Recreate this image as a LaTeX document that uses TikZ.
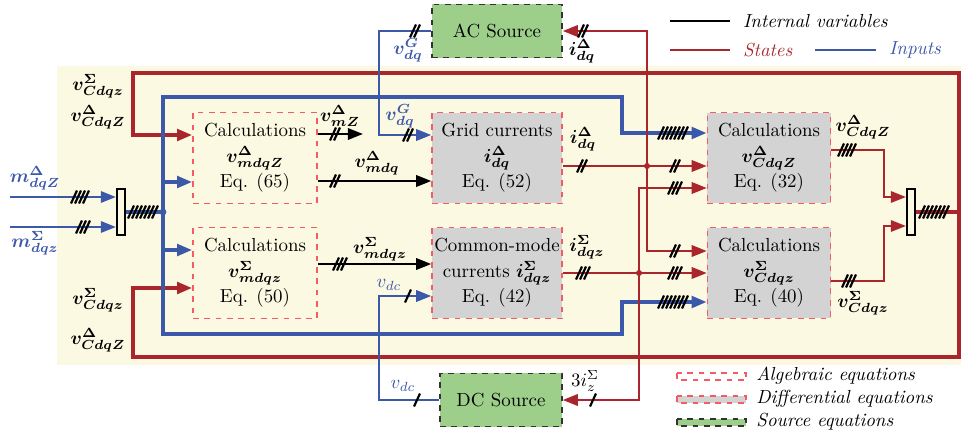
\documentclass[tikz,border=0pt]{standalone}
\usepackage{bm}
\usetikzlibrary{arrows.meta, calc, positioning}
\definecolor{stred}{HTML}{A8262C}
\definecolor{inblue}{HTML}{3C58A8}
\definecolor{bgyel}{HTML}{FCF9E2}
\definecolor{difgray}{HTML}{D3D3D3}
\definecolor{srcgreen}{HTML}{9DCF8A}
\definecolor{algred}{HTML}{F25C64}
\tikzset{arr/.style={-{Triangle[length=8pt,width=6pt]}},
  sthin/.style={stred, line width=1.2pt}, sthick/.style={stred, line width=2pt},
  inthin/.style={inblue, line width=1.2pt}, inthick/.style={inblue, line width=2pt},
  intl/.style={black, line width=1.2pt},
  algbox/.style={draw=algred, dashed, line width=0.7pt},
  eqbox/.style={algbox, align=center, inner sep=0.5pt, minimum width=2.31cm, minimum height=1.69cm},
  difbox/.style={eqbox, fill=difgray},
  srcbox/.style={draw=black!80, dashed, fill=srcgreen, line width=0.7pt, minimum height=0.99cm},
  muxbar/.style={draw, fill=bgyel, line width=1.1pt, inner sep=0pt, minimum width=0.15cm, minimum height=0.87cm},
  lbl/.style={inner sep=1pt}}
\newcommand{\busmark}[3]{\foreach \k in {1,...,#3}
  \draw[line width=1.15pt] ({#1+(\k-(#3+1)/2)*4-3},{#2+6.5}) -- ++(6,-13);}

\begin{document}
\begin{tikzpicture}[x=0.0186cm, y=-0.0186cm]
  \useasboundingbox (0,0) rectangle (961,439);
  \fill[bgyel] (57,66) rectangle (961,365);
  % blocks
  \node[eqbox] (calcD) at (255,158) {Calculations\\[1.5pt] $\bm{v^{\Delta}_{mdqZ}}$\\[1.5pt] Eq. (65)};
  \node[eqbox] (calcS) at (255,273) {Calculations\\[1.5pt] $\bm{v^{\Sigma}_{mdqz}}$\\[1.5pt] Eq. (50)};
  \node[difbox, minimum width=2.42cm] (grid) at (497,158) {Grid currents\\[1.5pt] $\bm{i^{\Delta}_{dq}}$\\[1.5pt] Eq. (52)};
  \node[difbox, minimum width=2.42cm] (cmode) at (497,273) {Common-mode\\[1.5pt] currents~$\bm{i^{\Sigma}_{dqz}}$\\[1.5pt] Eq. (42)};
  \node[difbox, minimum width=2.29cm] (capD) at (769,158) {Calculations\\[1.5pt] $\bm{v^{\Delta}_{CdqZ}}$\\[1.5pt] Eq. (32)};
  \node[difbox, minimum width=2.29cm] (capS) at (769,273) {Calculations\\[1.5pt] $\bm{v^{\Sigma}_{Cdqz}}$\\[1.5pt] Eq. (40)};
  \node[srcbox, minimum width=2.42cm] (acsrc) at (497,31) {AC Source};
  \node[srcbox, minimum width=2.27cm] (dcsrc) at (501,400) {DC Source};
  \node[muxbar] (muxin) at (121,212) {};
  \node[muxbar] (muxout) at (911,212) {};
  \coordinate (jB) at (163,212); \coordinate (jR) at (959,212);
  \coordinate (jD) at (647,166); \coordinate (jS) at (639,273);
  \coordinate (inD) at (10,197); \coordinate (inS) at (10,227);
  \coordinate (mZ) at (363,134);
  % states feedback
  \draw[sthick] (muxout.east) -- (jR);
  \draw[sthick, arr] (jR) |- (133,73) |- (calcD.west |- 0,135);
  \draw[sthick, arr] (jR) |- (133,357) |- (calcS.west |- 0,288);
  % inputs
  \draw[inthin, arr] (inD) -- (muxin.west |- inD);
  \draw[inthin, arr] (inS) -- (muxin.west |- inS);
  \draw[inthick] (muxin.east) -- (jB);
  \draw[inthick, arr] (jB) |- (622,97) |- (capD.west |- 0,133);
  \draw[inthick, arr] (jB) |- (622,334) |- (capS.west |- 0,302);
  \draw[inthick, arr] (jB |- 0,182) -- (calcD.west |- 0,182);
  \draw[inthick, arr] (jB |- 0,250) -- (calcS.west |- 0,250);
  \fill[inblue] (jB) circle (1.8pt);
  \draw[inthin, arr] (acsrc.west) -| (379,135) -- (grid.west |- 0,135);
  \draw[inthin, arr] (dcsrc.west) -| (379,296) -- (cmode.west |- 0,296);
  % internal variables
  \draw[intl, arr] (calcD.east |- mZ) -- (mZ);
  \draw[intl, arr] (calcD.east |- 0,181) -- (grid.west |- 0,181);
  \draw[intl, arr] (calcS.east |- 0,264) -- (cmode.west |- 0,264);
  % currents
  \draw[sthin, arr] (grid.east |- jD) -- (capD.west |- jD);
  \draw[sthin, arr] (jD) |- (acsrc.east);
  \draw[sthin, arr] (jD) |- (capS.west |- 0,251);
  \draw[sthin, arr] (cmode.east |- jS) -- (capS.west |- jS);
  \draw[sthin, arr] (jS) |- (capD.west |- 0,188);
  \draw[sthin, arr] (jS) |- (dcsrc.east);
  \fill[stred] (jD) circle (1.6pt); \fill[stred] (jS) circle (1.6pt);
  \draw[sthin, arr] (capD.east |- 0,150) -| (884,197) -- (muxout.west |- 0,197);
  \draw[sthin, arr] (capS.east |- 0,281) -| (884,226) -- (muxout.west |- 0,226);
  % bus widths
  \busmark{80}{197}{4} \busmark{83}{227}{3} \busmark{143}{212}{7}
  \busmark{335}{134}{2} \busmark{335}{181}{2} \busmark{340}{264}{3}
  \busmark{415}{31}{2} \busmark{408}{135}{2} \busmark{417}{400}{1} \busmark{408}{296}{1}
  \busmark{583}{31}{2} \busmark{582}{166}{2} \busmark{675}{166}{2} \busmark{675}{188}{3}
  \busmark{675}{251}{2} \busmark{675}{273}{3} \busmark{583}{273}{3} \busmark{593}{400}{1}
  \busmark{673}{133}{7} \busmark{673}{302}{7}
  \busmark{847}{150}{4} \busmark{849}{281}{3} \busmark{934}{212}{7}
  % labels
  \node[lbl] (lSt1) at (98,86) {$\bm{v^{\Sigma}_{Cdqz}}$};
  \node[lbl] (lSt2) at (98,117) {$\bm{v^{\Delta}_{CdqZ}}$};
  \node[lbl] (lSt3) at (98,300) {$\bm{v^{\Sigma}_{Cdqz}}$};
  \node[lbl] (lSt4) at (98,340) {$\bm{v^{\Delta}_{CdqZ}}$};
  \node[lbl, inblue] (lIn1) at (35,178) {$\bm{m^{\Delta}_{dqZ}}$};
  \node[lbl, inblue] (lIn2) at (35,243) {$\bm{m^{\Sigma}_{dqz}}$};
  \node[lbl] (lmZ) at (340,116) {$\bm{v^{\Delta}_{mZ}}$};
  \node[lbl] (lmdq) at (377,163) {$\bm{v^{\Delta}_{mdq}}$};
  \node[lbl] (lmdqz) at (380,249) {$\bm{v^{\Sigma}_{mdqz}}$};
  \node[lbl, inblue] (lvG1) at (408,50) {$\bm{v^{G}_{dq}}$};
  \node[lbl, inblue] (lvG2) at (400,116) {$\bm{v^{G}_{dq}}$};
  \node[lbl, inblue] (lvdc1) at (389,285) {$v_{dc}$};
  \node[lbl, inblue] (lvdc2) at (403,386) {$v_{dc}$};
  \node[lbl] (liD1) at (582,51) {$\bm{i^{\Delta}_{dq}}$};
  \node[lbl] (liD2) at (583,139) {$\bm{i^{\Delta}_{dq}}$};
  \node[lbl] (liS) at (587,247) {$\bm{i^{\Sigma}_{dqz}}$};
  \node[lbl] (liz) at (585,381) {$3i^{\Sigma}_{z}$};
  \node[lbl] (lCD) at (863,127) {$\bm{v^{\Delta}_{CdqZ}}$};
  \node[lbl] (lCS) at (863,303) {$\bm{v^{\Sigma}_{Cdqz}}$};
  % legend
  \draw[intl] (670,21) -- (730,21) node[right=3pt] (lgI) {\textit{Internal variables}};
  \draw[sthin] (670,50) -- (730,50) node[right=3pt, stred] (lgS) {\textit{States}};
  \draw[inthin] (815,50) -- (876,50) node[right=3pt, inblue] (lgU) {\textit{Inputs}};
  \draw[algbox] (677,373) rectangle (746,380);
  \draw[algbox, fill=difgray] (677,396) rectangle (746,403);
  \draw[srcbox] (677,419) rectangle (746,426);
  \node[right, inner sep=0pt] (lgA) at (756,376) {\textit{Algebraic equations}};
  \node[right, inner sep=0pt] (lgD) at (756,399) {\textit{Differential equations}};
  \node[right, inner sep=0pt] (lgE) at (756,422) {\textit{Source equations}};
\end{tikzpicture}
\end{document}
